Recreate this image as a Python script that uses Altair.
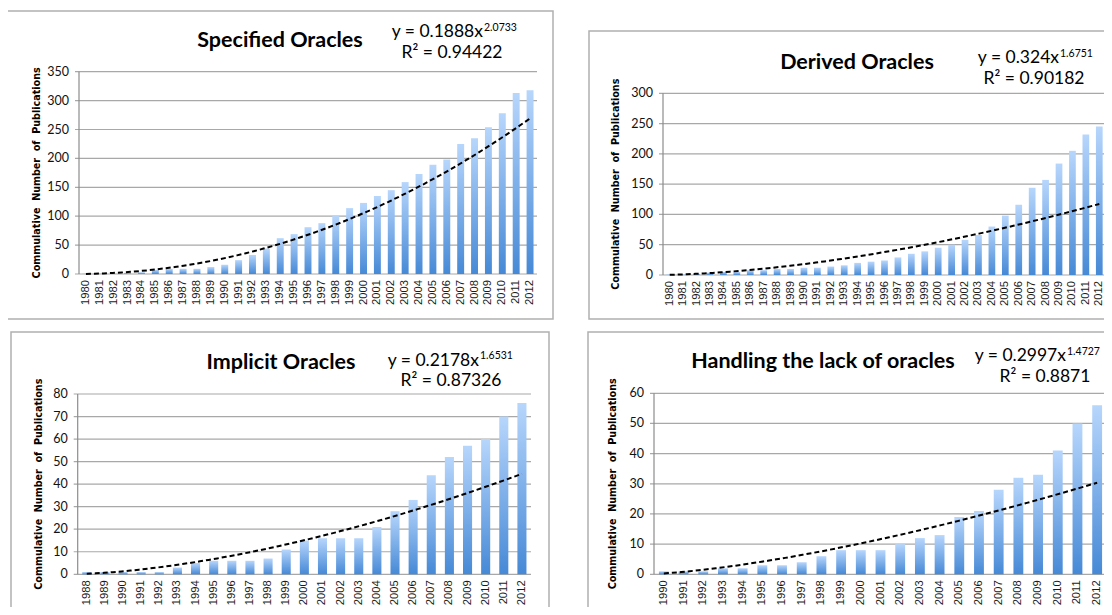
import altair as alt
import pandas as pd

# ---------------- data ----------------
spec_years = list(range(1980, 2013))
spec_vals = [1, 1, 1, 2, 3, 7, 9, 9, 9, 12, 16, 24, 33, 44, 62, 69, 81, 88, 101, 114,
             123, 135, 145, 159, 173, 189, 198, 225, 235, 254, 278, 313, 318]
spec_ticks = [0, 50, 100, 150, 200, 250, 300, 350]

der_years = list(range(1980, 2013))
der_vals = [1, 1, 2, 4, 5, 5, 8, 8, 10, 10, 12, 12, 14, 16, 20, 22, 24, 29, 35, 39,
            45, 50, 58, 66, 80, 98, 116, 144, 157, 184, 205, 232, 245]
der_ticks = [0, 50, 100, 150, 200, 250, 300]

imp_years = list(range(1988, 2013))
imp_vals = [1, 1, 1, 1, 1, 3, 5, 6, 6, 6, 7, 11, 15, 16, 16, 16, 21, 28, 33, 44,
            52, 57, 60, 70, 76]
imp_ticks = [0, 10, 20, 30, 40, 50, 60, 70, 80]

hand_years = list(range(1990, 2013))
hand_vals = [1, 1, 1, 2, 2, 3, 3, 4, 6, 8, 8, 8, 10, 12, 13, 19, 21, 28, 32, 33,
             41, 50, 56]
hand_ticks = [0, 10, 20, 30, 40, 50, 60]

titles = ["Specified Oracles", "Derived Oracles", "Implicit Oracles", "Handling the lack of oracles"]
eq_bases = ["y = 0.1888x", "y = 0.324x", "y = 0.2178x", "y = 0.2997x"]
eq_sups = ["2.0733", "1.6751", "1.6531", "1.4727"]
r2_texts = ["R\u00b2 = 0.94422", "R\u00b2 = 0.90182", "R\u00b2 = 0.87326", "R\u00b2 = 0.8871"]
ytitle = "Commulative\u00a0 Number\u00a0 of\u00a0 Publications"

# ---------------- layout (pixels) ----------------
W, H = 1096, 599
layouts = [
    dict(frame=(-1, 545, 3, 311), xr=[71, 529], yr=[266, 63.7],
         title=(272, 39), eq=(475, 29), sup=23, r2=(444, 50), yt=28.5),
    dict(frame=(581, 1130, 23, 311), xr=[655, 1098], yr=[267, 85.3],
         title=(849, 61), eq=(1051, 55), sup=49, r2=(1026, 76), yt=608),
    dict(frame=(3, 541, 324, 650), xr=[69.7, 523], yr=[566.3, 386],
         title=(273, 361), eq=(471, 358), sup=351, r2=(443, 378), yt=30.5),
    dict(frame=(580, 1130, 324, 650), xr=[646, 1099], yr=[566.3, 385.3],
         title=(815, 360), eq=(1058, 353), sup=347, r2=(1037, 374), yt=605),
]

grad = alt.Gradient(
    gradient="linear",
    stops=[alt.GradientStop(color="#4689d6", offset=0),
           alt.GradientStop(color="#b7d6fc", offset=1)],
    x1=0, x2=0, y1=1, y2=0,
)

GRID = "#a8a8a8"
AXIS = "#8c8c8c"
one = pd.DataFrame({"k": [0]})


def panel(years, vals, ticks, title, eq_base, eq_sup, r2, lay):
    first, last = years[0], years[-1]
    lo, hi = first - 0.5, last + 0.5
    df = pd.DataFrame({"year": years, "value": vals})
    tdf = pd.DataFrame({"tick": ticks})
    xscale = alt.Scale(domain=[lo, hi], range=lay["xr"], nice=False, zero=False)
    yscale = alt.Scale(domain=[ticks[0], ticks[-1]], range=lay["yr"], nice=False, zero=True)

    x0, x1, y0, y1 = lay["frame"]
    frame = alt.Chart(one).mark_rect(fillOpacity=0, stroke="#b0b0b0", strokeWidth=1.5).encode(
        x=alt.value(x0), x2=alt.value(x1), y=alt.value(y0), y2=alt.value(y1))

    # gridlines (extend 4px to the left as tick marks)
    grid = alt.Chart(tdf).mark_rule(color=GRID, strokeWidth=1.2, xOffset=-4).encode(
        y=alt.Y("tick:Q", scale=yscale, axis=None),
        x=alt.XDatum(lo, type="quantitative", scale=xscale, axis=None),
        x2=alt.X2Datum(hi),
    )
    # y axis line
    yline = alt.Chart(one).mark_rule(color=AXIS, strokeWidth=1.2).encode(
        x=alt.XDatum(lo, type="quantitative", axis=None),
        y=alt.YDatum(ticks[0], type="quantitative", axis=None),
        y2=alt.Y2Datum(ticks[-1]),
    )
    # y tick labels
    ylab = alt.Chart(tdf).mark_text(align="right", baseline="middle", dx=-10, font="Lato",
                                    fontSize=12.5, color="#111111").encode(
        x=alt.XDatum(lo, type="quantitative", axis=None),
        y=alt.Y("tick:Q", axis=None),
        text=alt.Text("tick:Q", format="d"),
    )
    # x (year) labels
    xlab = alt.Chart(df).mark_text(align="right", baseline="middle", angle=270, yOffset=6,
                                   font="Liberation Sans", fontSize=11.2, color="#1a1a1a").encode(
        x=alt.X("year:Q", axis=None),
        y=alt.YDatum(ticks[0], type="quantitative", axis=None),
        text=alt.Text("year:Q", format="d"),
    )

    bars = alt.Chart(df).transform_calculate(
        b0="datum.year - 0.25", b1="datum.year + 0.25"
    ).mark_bar(color=grad).encode(
        x=alt.X("b0:Q", axis=None),
        x2="b1:Q",
        y=alt.Y("value:Q", axis=None),
        y2=alt.Y2Datum(0),
    )

    trend = alt.Chart(df).transform_calculate(
        idx=f"datum.year - {first - 1}"
    ).transform_regression(
        "idx", "value", method="pow"
    ).transform_calculate(
        yr=f"datum.idx + {first - 1}"
    ).mark_line(color="#000000", strokeWidth=2, strokeDash=[5, 3]).encode(
        x=alt.X("yr:Q", axis=None),
        y=alt.Y("value:Q", axis=None),
    )

    ymid = (lay["yr"][0] + lay["yr"][1]) / 2
    ytl = alt.Chart(one).mark_text(text=ytitle, font="DejaVu Sans", fontSize=9.6, fontWeight="bold",
                                   angle=270, align="center", baseline="middle",
                                   color="#000000").encode(
        x=alt.value(lay["yt"]), y=alt.value(ymid))

    tx, ty = lay["title"]
    ttl = alt.Chart(one).mark_text(text=title, font="Lato", fontSize=21.5, fontWeight="bold",
                                   align="center", baseline="alphabetic", color="#000000").encode(
        x=alt.value(tx), y=alt.value(ty))
    ex, ey = lay["eq"]
    eqb = alt.Chart(one).mark_text(text=eq_base, font="Lato", fontSize=17.5, align="right",
                                   baseline="alphabetic", color="#000000").encode(
        x=alt.value(ex), y=alt.value(ey))
    eqs = alt.Chart(one).mark_text(text=eq_sup, font="Lato", fontSize=10.5, align="left",
                                   baseline="alphabetic", color="#000000").encode(
        x=alt.value(ex + 1), y=alt.value(lay["sup"]))
    rx, ry = lay["r2"]
    r2t = alt.Chart(one).mark_text(text=r2, font="Lato", fontSize=17.5, align="center",
                                   baseline="alphabetic", color="#000000").encode(
        x=alt.value(rx), y=alt.value(ry))

    return alt.layer(frame, grid, yline, ylab, xlab, bars, trend, ytl, ttl, eqb, eqs, r2t)


p1 = panel(spec_years, spec_vals, spec_ticks, titles[0], eq_bases[0], eq_sups[0], r2_texts[0], layouts[0])
p2 = panel(der_years, der_vals, der_ticks, titles[1], eq_bases[1], eq_sups[1], r2_texts[1], layouts[1])
p3 = panel(imp_years, imp_vals, imp_ticks, titles[2], eq_bases[2], eq_sups[2], r2_texts[2], layouts[2])
p4 = panel(hand_years, hand_vals, hand_ticks, titles[3], eq_bases[3], eq_sups[3], r2_texts[3], layouts[3])

chart = alt.layer(p1, p2, p3, p4).resolve_scale(
    x="independent", y="independent"
).properties(
    width=W, height=H, padding=0, background="white",
    autosize=alt.AutoSizeParams(type="none"),
).configure_view(stroke=None)

chart.save("out.html", embed_options={"renderer": "svg", "actions": False})
